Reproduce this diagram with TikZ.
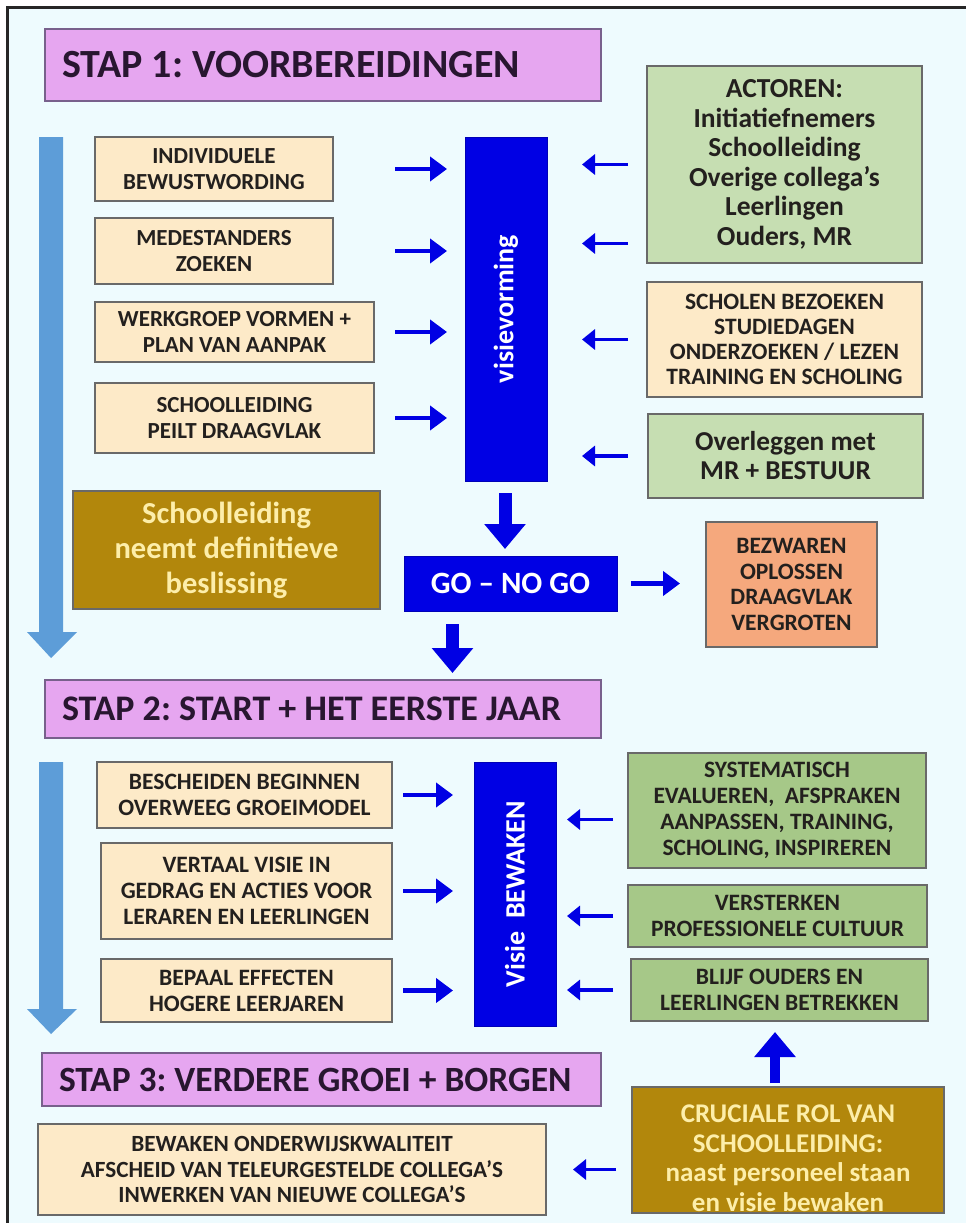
\documentclass[tikz,border=0pt]{standalone}
\usepackage{fontspec}
\setmainfont{Carlito}
\usetikzlibrary{arrows.meta,calc}
\definecolor{bgc}{RGB}{238,251,254}
\definecolor{stapc}{RGB}{230,166,240}
\definecolor{stapd}{RGB}{120,96,140}
\definecolor{creamc}{RGB}{253,234,200}
\definecolor{lgreen}{RGB}{198,222,178}
\definecolor{mgreen}{RGB}{166,200,136}
\definecolor{goldc}{RGB}{178,135,12}
\definecolor{bluec}{RGB}{0,0,228}
\definecolor{salmonc}{RGB}{245,168,125}
\definecolor{yelt}{RGB}{253,238,170}
\definecolor{sky}{RGB}{93,157,216}
\definecolor{edgec}{RGB}{105,105,105}
\definecolor{txt}{RGB}{35,32,30}
\definecolor{stxt}{RGB}{40,22,48}
\begin{document}
\frenchspacing
\begin{tikzpicture}[x=1pt,y=-1pt,
  every node/.style={inner sep=0pt,outer sep=0pt},
  fs/.style n args={2}{font=\fontsize{#1}{#2}\selectfont\bfseries\frenchspacing},
  bx/.style={draw=edgec,line width=1.6pt,anchor=north west,align=center,text=txt},
  stapbox/.style={bx,fill=stapc,draw=stapd,inner xsep=17pt,text=stxt},
  bluebar/.style={anchor=north west,fill=bluec,draw=bluec!80!black,line width=1pt},
  tarrow/.style={draw=bluec,line width=4.5pt,-{Triangle[length=17pt,width=24pt]}},
  rarrow/.style={draw=bluec,line width=3.5pt,-{Triangle[length=13pt,width=20pt]}},
  fatarrow/.style={draw=bluec,line width=13pt,-{Triangle[length=25pt,width=40pt]}},
  bigarrow/.style={fill=sky}
]
\useasboundingbox (0,0) rectangle (966,1223);
\fill[white] (0,0) rectangle (966,1223);
\fill[bgc] (7,8) rectangle (966,1223);
\draw[black!85,line width=3pt] (7,1223) -- (7,8) -- (966,8);

% big light blue arrows
\fill[bigarrow] (39,137) -- (63,137) -- (63,632) -- (77,632) -- (51,658) -- (27,632) -- (39,632) -- cycle;
\fill[bigarrow] (39,762) -- (63,762) -- (63,1009) -- (77,1009) -- (51,1034) -- (27,1009) -- (39,1009) -- cycle;

% STAP 1
\node[stapbox,minimum height=72pt,fs={40}{44}] (s1) at (45,29) {\makebox[522pt][l]{STAP 1: VOORBEREIDINGEN}};

\node[bx,fill=lgreen,minimum width=275pt,minimum height=197pt,fs={27.5}{29.5}] (act) at (647,66)
 {ACTOREN:\\Initiatiefnemers\\Schoolleiding\\Overige collega’s\\Leerlingen\\Ouders, MR};

\node[bx,fill=creamc,minimum width=238pt,minimum height=64pt,fs={23}{26}] (i1) at (95,137) {INDIVIDUELE\\BEWUSTWORDING};
\node[bx,fill=creamc,minimum width=238pt,minimum height=66pt,fs={23}{26}] (i2) at (95,218) {MEDESTANDERS\\ZOEKEN};
\node[bx,fill=creamc,minimum width=279pt,minimum height=60pt,fs={23}{26}] (i3) at (95,302) {WERKGROEP VORMEN +\\PLAN VAN AANPAK};
\node[bx,fill=creamc,minimum width=279pt,minimum height=70pt,fs={23}{26}] (i4) at (95,383) {SCHOOLLEIDING\\PEILT DRAAGVLAK};

\node[bluebar,minimum width=82pt,minimum height=344pt] (vv) at (465,137) {};
\node[rotate=90,text=white,fs={28}{30}] (vvt) at (vv.center) {visievorming};

\node[bx,fill=creamc,minimum width=275pt,minimum height=115pt,fs={23.5}{25}] (sch) at (647,282)
 {SCHOLEN BEZOEKEN\\STUDIEDAGEN\\ONDERZOEKEN / LEZEN\\TRAINING EN SCHOLING};
\node[bx,fill=lgreen,minimum width=275pt,minimum height=84pt,fs={27.3}{29}] (ovl) at (648,414) {Overleggen met\\MR + BESTUUR};

\node[bx,fill=goldc,text=yelt,minimum width=307pt,minimum height=118pt,fs={30.5}{35}] (besl) at (73,491)
 {Schoolleiding\\neemt definitieve\\beslissing};
\node[bluebar,text=white,minimum width=213pt,minimum height=55pt,fs={31}{33}] (go) at (404,556) {GO – NO GO};
\node[bx,fill=salmonc,minimum width=171pt,minimum height=125pt,fs={23.5}{25.5}] (bez) at (706,522)
 {BEZWAREN\\OPLOSSEN\\DRAAGVLAK\\VERGROTEN};

\draw[tarrow,shorten <=62pt,shorten >=18pt] (i1.east) -- (i1.east -| vv.west);
\draw[tarrow,shorten <=62pt,shorten >=18pt] (i2.east) -- (i2.east -| vv.west);
\draw[tarrow,shorten <=21pt,shorten >=18pt] (i3.east) -- (i3.east -| vv.west);
\draw[tarrow,shorten <=21pt,shorten >=18pt] (i4.east) -- (i4.east -| vv.west);

\draw[rarrow,shorten <=19pt,shorten >=35pt] (act.west) -- (act.west -| vv.east);
\draw[rarrow,shorten <=19pt,shorten >=35pt] ([yshift=-79pt]act.west) -- ([yshift=-79pt]act.west -| vv.east);
\draw[rarrow,shorten <=19pt,shorten >=35pt] (sch.west) -- (sch.west -| vv.east);
\draw[rarrow,shorten <=20pt,shorten >=35pt] (ovl.west) -- (ovl.west -| vv.east);

\draw[fatarrow,shorten <=12pt,shorten >=7pt] ([xshift=-1pt]vv.south) -- ([xshift=-1pt]vv.south |- go.north);
\draw[tarrow,shorten <=14pt,shorten >=26pt] (go.east) -- (go.east -| bez.west);

% STAP 2
\node[stapbox,minimum height=58pt,fs={36}{38}] (s2) at (45,680) {\makebox[522pt][l]{STAP 2: START + HET EERSTE JAAR}};
\draw[fatarrow,shorten <=13pt,shorten >=7pt] ([xshift=-58pt]go.south) -- ([xshift=-58pt]go.south |- s2.north);

\node[bx,fill=creamc,minimum width=295pt,minimum height=66pt,fs={23.5}{26}] (b1) at (97,762) {BESCHEIDEN BEGINNEN\\OVERWEEG GROEIMODEL};
\node[bx,fill=creamc,minimum width=291pt,minimum height=96pt,fs={23.5}{26}] (b2) at (101,843) {VERTAAL VISIE IN\\GEDRAG EN ACTIES VOOR\\LERAREN EN LEERLINGEN};
\node[bx,fill=creamc,minimum width=291pt,minimum height=63pt,fs={23.5}{26}] (b3) at (101,959) {BEPAAL EFFECTEN\\HOGERE LEERJAREN};

\node[bluebar,minimum width=82pt,minimum height=264pt] (vb) at (474,762) {};
\node[rotate=90,text=white,fs={28}{30}] (vbt) at (vb.center) {Visie\ \ BEWAKEN};

\node[bx,fill=mgreen,minimum width=298pt,minimum height=115pt,fs={23.5}{26}] (sy) at (628,753)
 {SYSTEMATISCH\\EVALUEREN,\ \ AFSPRAKEN\\AANPASSEN, TRAINING,\\SCHOLING, INSPIREREN};
\node[bx,fill=mgreen,minimum width=299pt,minimum height=62pt,fs={23.5}{26}] (ve) at (628,885) {VERSTERKEN\\PROFESSIONELE CULTUUR};
\node[bx,fill=mgreen,minimum width=297pt,minimum height=62pt,fs={23.5}{26}] (bl) at (631,959) {BLIJF OUDERS EN\\LEERLINGEN BETREKKEN};

\draw[tarrow,shorten <=11pt,shorten >=21pt] (b1.east) -- (b1.east -| vb.west);
\draw[tarrow,shorten <=11pt,shorten >=21pt] (b2.east) -- (b2.east -| vb.west);
\draw[tarrow,shorten <=11pt,shorten >=21pt] (b3.east) -- (b3.east -| vb.west);

\draw[rarrow,shorten <=15pt,shorten >=11pt] ([yshift=-9pt]sy.west) -- ([yshift=-9pt]sy.west -| vb.east);
\draw[rarrow,shorten <=15pt,shorten >=11pt] (ve.west) -- (ve.west -| vb.east);
\draw[rarrow,shorten <=18pt,shorten >=11pt] (bl.west) -- (bl.west -| vb.east);

% STAP 3
\node[stapbox,minimum height=53pt,fs={35.5}{38}] (s3) at (42,1053) {\makebox[525pt][l]{STAP 3: VERDERE GROEI + BORGEN}};

\node[bx,fill=creamc,minimum width=508pt,minimum height=91pt,fs={23.2}{25.5}] (bw) at (38,1124)
 {BEWAKEN ONDERWIJSKWALITEIT\\AFSCHEID VAN TELEURGESTELDE COLLEGA’S\\INWERKEN VAN NIEUWE COLLEGA’S};

\node[bx,fill=goldc,minimum width=312pt,minimum height=126pt] (cr) at (632,1087) {};
\begin{scope}
\clip (cr.north west) rectangle (cr.south east);
\node[anchor=north,text=yelt,align=center,fs={27}{29.5}] (crt) at ([yshift=-18pt]cr.north)
 {CRUCIALE ROL VAN\\SCHOOLLEIDING:\\naast personeel staan\\en visie bewaken};
\end{scope}
\draw[draw=edgec,line width=1.6pt] (cr.north west) rectangle (cr.south east);

\draw[fatarrow,line width=10pt,shorten <=4pt,shorten >=11pt] ([xshift=-13pt]cr.north) -- ([xshift=-13pt]cr.north |- bl.south);
\draw[rarrow,shorten <=16pt,shorten >=27pt] (cr.west |- bw.east) -- (bw.east);
\end{tikzpicture}
\end{document}
